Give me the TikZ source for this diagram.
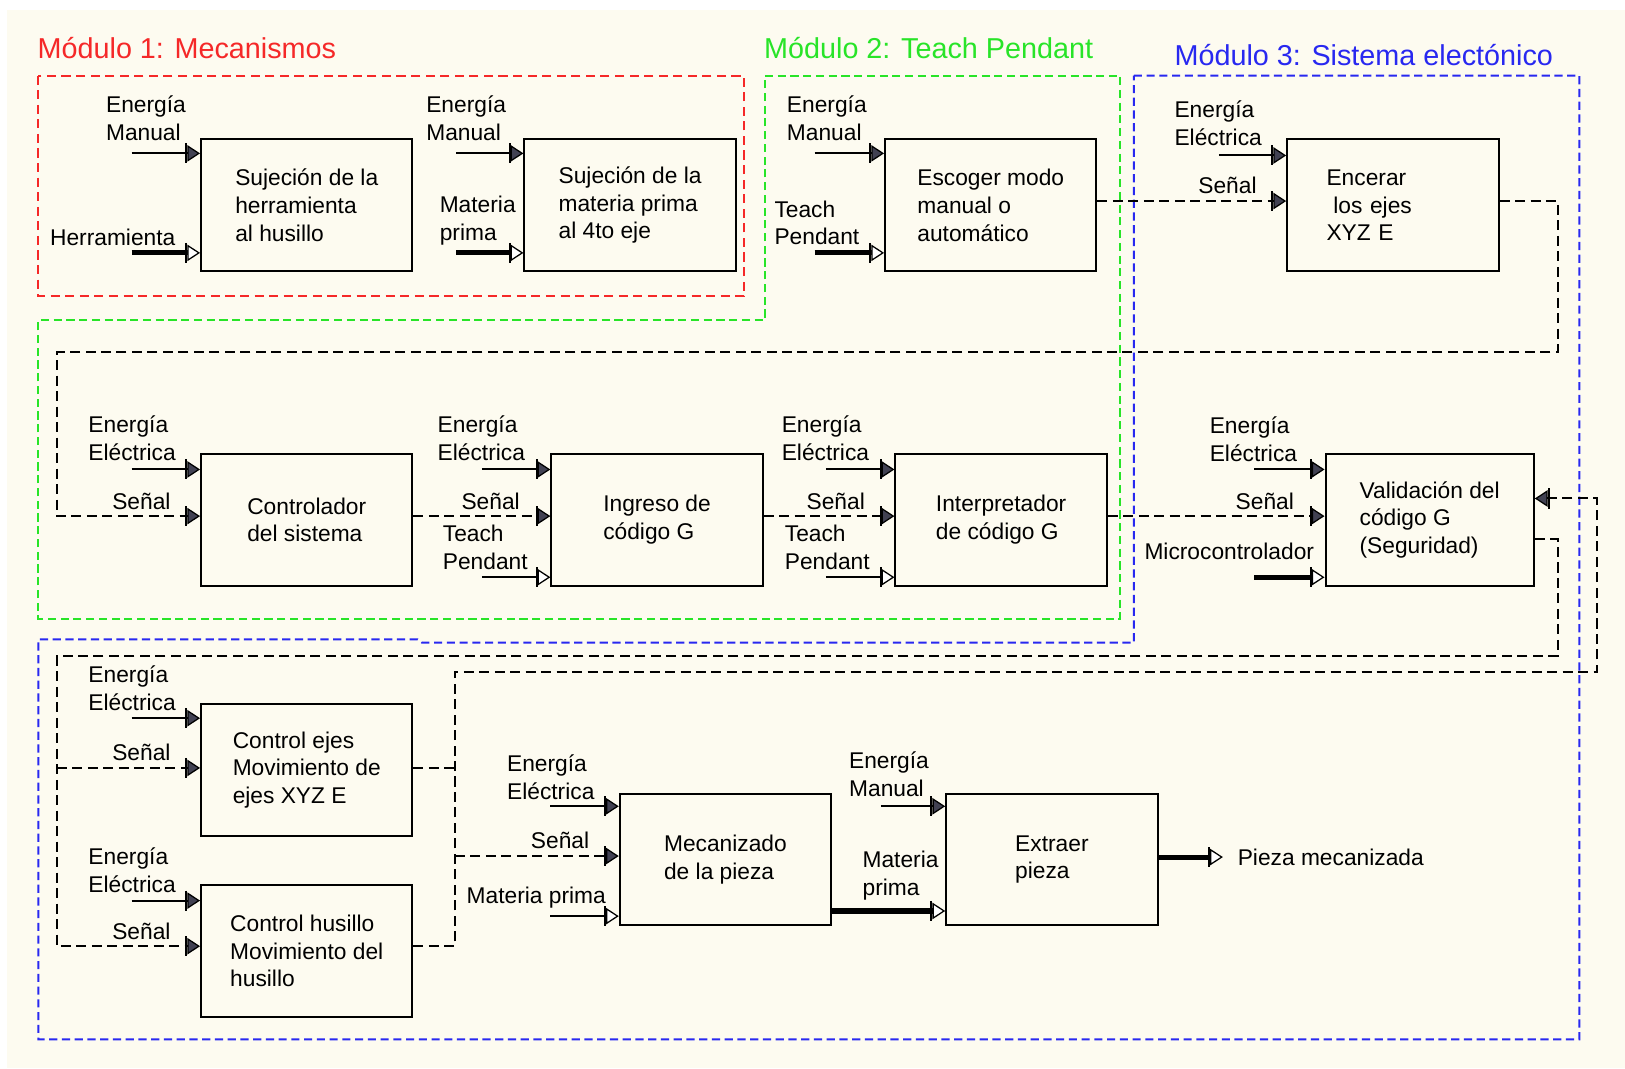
\documentclass[tikz,border=0pt]{standalone}
\usepackage{fontspec}
\setmainfont{Liberation Sans}
\usetikzlibrary{arrows.meta}
\definecolor{cream}{RGB}{253,251,240}
\definecolor{mred}{RGB}{245,40,40}
\definecolor{mgreen}{RGB}{40,228,40}
\definecolor{mblue}{RGB}{40,40,240}
\definecolor{tipfill}{RGB}{65,65,82}
\newcommand\lblfont{\fontsize{12.5}{15.2}\selectfont}
\newcommand\ttlfont{\fontsize{15.8}{18}\selectfont}
\newcommand\inarrow[4]{\coordinate (#1) at (#2); \draw[#3] (#1) -- (#1 -| #4.west);}
\tikzset{
  blk/.style={draw, line width=1.1pt, minimum width=4.08cm, minimum height=2.54cm, align=left, font=\lblfont, inner sep=0pt},
  lbl/.style={font=\lblfont, align=left, inner sep=0pt, anchor=west},
  ttl/.style={font=\ttlfont, inner sep=0pt, anchor=west},
  tipF/.style={-{Bar[width=11pt,line width=1.1pt,sep=0pt]Triangle[length=7pt,width=9pt,fill=tipfill,line width=0.7pt]}},
  tipH/.style={-{Bar[width=11pt,line width=1.1pt,sep=0pt]Triangle[length=7pt,width=9pt,fill=white,line width=0.7pt]}},
  ea/.style={line width=1.1pt, tipF},
  th/.style={line width=1.1pt, tipH},
  ma/.style={line width=2.8pt, tipH},
  sig/.style={line width=1.1pt, dash pattern=on 5.5pt off 3pt, tipF},
  dl/.style={line width=1.1pt, dash pattern=on 5.5pt off 3pt},
  modR/.style={draw=mred, line width=1.1pt, dash pattern=on 5pt off 3pt},
  modG/.style={draw=mgreen, line width=1.1pt, dash pattern=on 4.5pt off 2.5pt},
  modB/.style={draw=mblue, line width=1.1pt, dash pattern=on 4.5pt off 2.5pt},
}
\begin{document}
\begin{tikzpicture}[x=0.02cm, y=-0.02cm]
\useasboundingbox (0,0) rectangle (1568,1031);
\fill[white] (0,0) rectangle (1568,1031);
\fill[cream] (7,10) rectangle (1568,1031);

% modules
\draw[modR] (37,73) rectangle (718,286);
\draw[modG] (738,73) -- (1081,73) -- (1081,597) -- (37,597) -- (37,309) -- (738,309) -- cycle;
\draw[modB] (1094,73) -- (1524,73) -- (1524,1003) -- (37,1003) -- (37,617) -- (403,617) -- (407,620) -- (1094,620) -- cycle;
\node[ttl, text=mred] (t1) at (36,46) {Módulo 1: Mecanismos};
\node[ttl, text=mgreen] (t2) at (737,46) {Módulo 2: Teach Pendant};
\node[ttl, text=mblue] (t3) at (1133,53) {Módulo 3: Sistema electónico};

% blocks
\node[blk] (B1) at (296,198) {Sujeción de la\\herramienta\\al husillo};
\node[blk] (B2) at (608,198) {Sujeción de la\\materia prima\\al 4to eje};
\node[blk] (B3) at (956,198) {Escoger modo\\manual o\\automático};
\node[blk, text width=2.56cm] (B4) at (1344,198) {Encerar\\\hspace*{0.3em}los ejes\\XYZ E};
\node[blk] (B5) at (296,501.5) {Controlador\\del sistema};
\node[blk] (B6) at (634,501.5) {Ingreso de\\código G};
\node[blk] (B7) at (966,501.5) {Interpretador\\de código G};
\node[blk, minimum width=4.02cm] (B8) at (1379.5,501.5) {Validación del\\código G\\(Seguridad)};
\node[blk] (B9) at (296,743) {Control ejes\\Movimiento de\\ejes XYZ E};
\node[blk] (B10) at (296,917.5) {Control husillo\\Movimiento del\\husillo};
\node[blk] (B11) at (700,829.5) {Mecanizado\\de la pieza};
\node[blk] (B12) at (1015,829.5) {Extraer\\pieza};

% input arrows
\inarrow{a1}{127,148}{ea}{B1}
\inarrow{a2}{127,244}{ma}{B1}
\inarrow{a3}{440,148}{ea}{B2}
\inarrow{a4}{440,244}{ma}{B2}
\inarrow{a5}{786,148}{ea}{B3}
\inarrow{a6}{786,244}{ma}{B3}
\inarrow{a7}{1176,150}{ea}{B4}
\inarrow{a8}{127,453}{ea}{B5}
\inarrow{a9}{465,453}{ea}{B6}
\inarrow{a10}{465,557}{th}{B6}
\inarrow{a11}{797,453}{ea}{B7}
\inarrow{a12}{797,557}{th}{B7}
\inarrow{a13}{1210,453}{ea}{B8}
\inarrow{a14}{1210,557}{ma}{B8}
\inarrow{a15}{127,693}{ea}{B9}
\inarrow{a16}{127,869}{ea}{B10}
\inarrow{a17}{531,778}{ea}{B11}
\inarrow{a18}{531,884}{th}{B11}
\inarrow{a19}{850,778}{ea}{B12}

% signal flow
\draw[sig] (B3.east |- 0,194) -- (B4.west |- 0,194);
\draw[sig] (B4.east |- 0,194) -- (1503,194) -- (1503,340) -- (55,340) -- (55,498) -- (B5.west |- 0,498);
\draw[sig] (B5.east |- 0,498) -- (B6.west |- 0,498);
\draw[sig] (B6.east |- 0,498) -- (B7.west |- 0,498);
\draw[sig] (B7.east |- 0,498) -- (B8.west |- 0,498);
\draw[sig] (B8.east |- 0,520) -- (1503,520) -- (1503,633) -- (55,633) -- (55,913) -- (B10.west |- 0,913);
\draw[sig] (55,741) -- (B9.west |- 0,741);
\draw[dl] (B9.east |- 0,741) -- (439,741);
\draw[sig] (B10.east |- 0,913) -- (439,913) -- (439,648) -- (1541,648) -- (1541,481) -- (B8.east |- 0,481);
\draw[sig] (439,826) -- (B11.west |- 0,826);
\draw[ma] (B11.east |- 0,879) -- (B12.west |- 0,879);
\coordinate (out) at (1180,827);
\draw[ma] (B12.east |- out) -- (out);

% labels
\node[lbl] (l1) at (102,114) {Energía\\Manual};
\node[lbl] (l2) at (48,229) {Herramienta};
\node[lbl] (l3) at (411,114) {Energía\\Manual};
\node[lbl] (l4) at (424,213) {Materia\\prima};
\node[lbl] (l5) at (759,114) {Energía\\Manual};
\node[lbl] (l6) at (747,215) {Teach\\Pendant};
\node[lbl] (l7) at (1133,119) {Energía\\Eléctrica};
\node[lbl] (l8) at (1156,179) {Señal};
\node[lbl] (l9) at (85,423) {Energía\\Eléctrica};
\node[lbl] (l10) at (108,484) {Señal};
\node[lbl] (l11) at (422,423) {Energía\\Eléctrica};
\node[lbl] (l12) at (445,484) {Señal};
\node[lbl] (l13) at (427,528) {Teach\\Pendant};
\node[lbl] (l14) at (754,423) {Energía\\Eléctrica};
\node[lbl] (l15) at (778,484) {Señal};
\node[lbl] (l16) at (757,528) {Teach\\Pendant};
\node[lbl] (l17) at (1167,424) {Energía\\Eléctrica};
\node[lbl] (l18) at (1192,484) {Señal};
\node[lbl] (l19) at (1104,532) {Microcontrolador};
\node[lbl] (l20) at (85,664) {Energía\\Eléctrica};
\node[lbl] (l21) at (108,726) {Señal};
\node[lbl] (l22) at (85,840) {Energía\\Eléctrica};
\node[lbl] (l23) at (108,899) {Señal};
\node[lbl] (l24) at (489,750) {Energía\\Eléctrica};
\node[lbl] (l25) at (512,811) {Señal};
\node[lbl] (l26) at (450,866) {Materia prima};
\node[lbl] (l27) at (819,747) {Energía\\Manual};
\node[lbl] (l28) at (832,845) {Materia\\prima};
\node[lbl] (l29) at (1194,827) {Pieza mecanizada};
\end{tikzpicture}
\end{document}
